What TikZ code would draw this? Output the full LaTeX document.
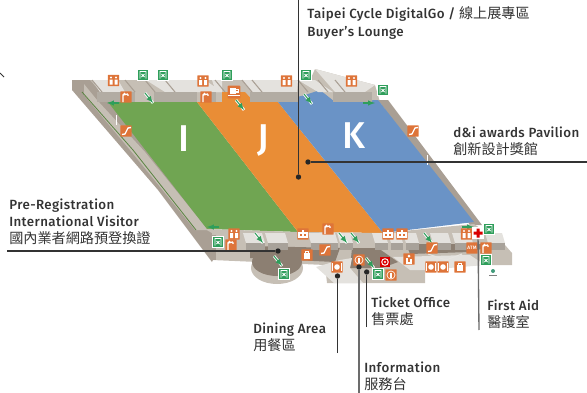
\documentclass[tikz,border=0pt]{standalone}
\usepackage{fontspec}
\setmainfont[LetterSpace=3]{Fira Sans Medium}
\newfontfamily\cjk[Scale=1.06]{Noto Sans CJK TC}
\definecolor{wallc}{HTML}{C6BFB5}
\definecolor{roofc}{HTML}{E4E2DE}
\definecolor{sidec}{HTML}{A99F94}
\definecolor{darkc}{HTML}{8C7F72}
\definecolor{greenc}{HTML}{70A552}
\definecolor{orangec}{HTML}{E98D36}
\definecolor{bluec}{HTML}{6A93C6}
\definecolor{iconc}{HTML}{DE7439}
\definecolor{exitc}{HTML}{2F9E5B}
\definecolor{textc}{HTML}{333333}
\tikzset{
    lbl/.style={anchor=west, align=left, inner sep=0pt, text=textc, font=\fontsize{10}{12.8}\selectfont},
    bigl/.style={text=white, font=\fontsize{28}{28}\selectfont, inner sep=0pt},
    orgbox/.style={fill=iconc, minimum size=8.6pt, inner sep=0pt, rounded corners=0.5pt},
    extbox/.style={fill=exitc, draw=white, line width=1pt, minimum size=8pt, inner sep=0pt},
    lead/.style={line width=0.8pt, textc},
    leadg/.style={line width=1pt, gray!85!black},
    dot/.style={fill=black!85, circle, inner sep=0pt, minimum size=4pt},
    gline/.style={exitc, line width=0.8pt}
}
\begin{document}
\begin{tikzpicture}[x=0.75pt, y=-0.75pt]
    \useasboundingbox (0,0) rectangle (587,393);
    \draw[line width=0.7pt, textc] (0,73) -- (4,77);

    % back band and outer wall
    \fill[wallc] (72,80) -- (310,80) -- (315,69) -- (375,85) -- (380,102) -- (100,103) -- cycle;
    \fill[sidec] (72,80) -- (72,90) -- (158,190) -- (212,262) -- (222,240) -- (150,150) -- (90,80) -- cycle;
    \fill[wallc] (84,84) -- (97,100) -- (145,152) -- (208,230) -- (195,230) -- (130,150) -- (84,95) -- cycle;
    \draw[greenc!80!black, line width=0.6pt] (82,92) -- (133,150) -- (196,230);
    \fill[sidec] (378,100) -- (388,100) -- (482,225) -- (470,225) -- cycle;

    % halls
    \fill[greenc] (108,102) -- (197,102) -- (298,232) -- (207,229) -- cycle;
    \fill[orangec] (197,102) -- (278,102) -- (383,233) -- (298,232) -- cycle;
    \fill[orangec] (222,92) -- (245,92) -- (255,103) -- (222,103) -- cycle;
    \fill[bluec] (278,102) -- (305,95) -- (320,90) -- (335,102) -- (378,100) -- (474,222) -- (383,233) -- cycle;
    \draw[white, line width=0.5pt] (427,155) -- (427,165);
    \draw[white, line width=0.5pt] (116,115) -- (116,125);

    % roofs of the back band
    \foreach \a/\b/\c/\d in {92/118/125/100,146/205/222/165,212/222/222/216,242/298/297/252,298/315/333/318}{
        \fill[roofc] (\a,80) -- (\b,80) -- (\c,92) -- (\d,92) -- cycle;
    }
    \fill[roofc] (315,69) -- (375,85) -- (365,92) -- (335,92) -- cycle;
    \foreach \a/\b in {97/135,154/197,203/216,250/298,333/372}{
        \fill[wallc!90!black] (\a,92) rectangle (\b,102);
    }
    \foreach \a in {92,125,145,165,215,242,252,298,318,335}{
        \draw[sidec, line width=0.8pt] (\a,80) -- +(10,12);
    }

    % front block
    \fill[wallc] (212,233) -- (205,229) -- (298,232) -- (383,233) -- (474,224) -- (505,245) -- (512,253) -- (512,265) -- (470,265) -- (425,270) -- (425,283) -- (327,283) -- (325,265) -- (212,260) -- cycle;
    \fill[sidec] (212,235) -- (216,235) -- (216,260) -- (212,260) -- cycle;
    \fill[darkc] (250,246) -- (340,248) -- (335,262) -- (250,258) -- cycle;
    \fill[wallc] (277,268) ellipse [x radius=26, y radius=16];
    \fill[darkc] (277,262) ellipse [x radius=25, y radius=14];
    \fill[darkc] (352,248) -- (378,248) -- (398,262) -- (382,268) -- (350,268) -- cycle;
    \fill[darkc] (406,244) -- (500,244) -- (470,252) -- (410,254) -- cycle;
    \fill[roofc] (340,260) -- (352,258) -- (350,268) -- (363,283) -- (334,283) -- (316,267) -- cycle;
    \fill[roofc] (393,257) -- (470,255) -- (485,265) -- (425,270) -- (410,270) -- cycle;
    \foreach \a/\b in {243/262,265/285,308/322,321/335,337/350,372/385,388/400,403/416,430/448,452/470,485/502}{
        \fill[roofc] (\a,233) -- (\b,233) -- (\b+3,243) -- (\a+3,243) -- cycle;
        \fill[wallc!85!black] (\a+3,243) rectangle (\b+3,250);
    }
    \draw[wallc!40!white, line width=0.8pt] (428,254) -- (446,260) -- (462,254);

    % green ramps
    \foreach \x/\y in {149/98,240/105,308/99,259/238,278/261,343/238,355/238,370/263,428/238}{
        \draw[gline, white, line width=2pt] (\x-4,\y-5) -- (\x+4,\y+5);
        \draw[gline, -latex] (\x-4,\y-5) -- (\x+4,\y+5);
    }
    \foreach \x/\y in {113/103,213/227}{
        \draw[gline, -latex] (\x+6,\y) -- (\x-6,\y);
    }
    \foreach \x/\y in {369/103,468/227}{
        \draw[gline, -latex] (\x-6,\y) -- (\x+6,\y);
    }

    % wc
    \foreach \x/\y [count=\i] in {113.5/80.5,203/81,286.5/81,351.5/81,234/234,466.5/234}{
        \node[orgbox] (wc\i) at (\x,\y) {};
        \fill[white] (\x-4,\y-1) rectangle (\x-1,\y+4) (\x+1,\y-1) rectangle (\x+4,\y+4);
        \fill[white] (\x-2.5,\y-3) circle[radius=1.1] (\x+2.5,\y-3) circle[radius=1.1];
    }
    % water
    \foreach \x/\y [count=\i] in {126/97,206/97,231/245,328/229,486/248}{
        \node[orgbox] (wtr\i) at (\x,\y) {};
        \draw[white, line width=1pt] (\x-3,\y+5) -- (\x-3,\y-2) -- (\x+2,\y-3) (\x-3,\y-2) -- (\x-1,\y-4);
        \fill[white] (\x+2,\y-2) circle[radius=1];
    }
    % escalators
    \foreach \x/\y [count=\i] in {126/131,413/131,325/250,432/248}{
        \node[orgbox] (esc\i) at (\x,\y) {};
        \draw[white, line width=1pt] (\x-4,\y+3.5) -- (\x-1,\y+3) -- (\x+2,\y-3) -- (\x+5,\y-3.5);
    }
    % coffee
    \node[orgbox, minimum size=9.5pt] (cafe) at (234,92) {};
    \fill[white] (229.5,88) rectangle (236,93.5);
    \draw[white, line width=0.8pt] (236,89.5) -- (238.5,89.5) -- (238.5,92) -- (236,92);
    \draw[white, line width=0.8pt] (228,95.5) -- (240,95.5);
    % lockers
    \foreach \x/\y [count=\i] in {303/234,388/234,402/234}{
        \node[orgbox] (lkr\i) at (\x,\y) {};
        \draw[white, line width=0.8pt] (\x-4,\y-1) rectangle (\x+4,\y+3) (\x,\y-4) -- (\x,\y+3);
    }
    % luggage
    \foreach \x/\y [count=\i] in {307/255,460/267}{
        \node[orgbox] (lug\i) at (\x,\y) {};
        \fill[white] (\x-3.5,\y-2) rectangle (\x+3,\y+4);
        \draw[white, line width=0.7pt] (\x-2,\y-2) -- (\x-2,\y-4) -- (\x+1,\y-4) -- (\x+1,\y-2);
    }
    % dining
    \foreach \x/\y [count=\i] in {337/267,431/267,443/267}{
        \node[orgbox] (din\i) at (\x,\y) {};
        \fill[white] (\x,\y) circle[radius=2.8];
        \draw[white, line width=0.7pt] (\x-4.2,\y-4) -- (\x-4.2,\y+4) (\x+4.2,\y-4) -- (\x+4.2,\y+4);
    }
    % information
    \foreach \x/\y [count=\i] in {359/260,391/275}{
        \node[orgbox] (inf\i) at (\x,\y) {};
        \draw[white, line width=0.5pt] (\x,\y) circle[radius=4];
        \draw[white, line width=0.9pt] (\x,\y-2.5) -- (\x,\y+2.5);
    }
    % others
    \node[orgbox, text=white, font=\fontsize{3.6}{4}\selectfont] (atm) at (472,248) {ATM};
    \node[orgbox] (nurs) at (409,259) {};
    \fill[white] (409,256) circle[radius=1.5];
    \draw[white, line width=1.2pt] (407,258) -- (407,263) -- (412,263) (411,259) -- (411,262);
    \node[fill=red!85!black, minimum size=8.2pt, inner sep=0pt] (tick) at (385,262) {};
    \draw[white, line width=0.7pt] (385,262) circle[radius=3.3];
    \fill[white] (385,262) circle[radius=1.2];
    \node[fill=white, minimum size=9pt, inner sep=0pt] (aid) at (478,233) {};
    \fill[red!85!black] (473.5,231.5) rectangle (482.5,234.5) (476.5,228.5) rectangle (479.5,237.5);
    \fill[exitc!70!bluec] (493,271) circle[radius=2];
    \fill[gray] (489,274.5) rectangle (497,275.5);

    % exits
    \foreach \x/\y [count=\i] in {143/75,163/75,227/75,306/75,383/90,218/242,284/274,489/229,486/260,378/274}{
        \node[extbox] (ext\i) at (\x,\y) {};
        \draw[white, line width=0.6pt] (\x-3,\y+3.5) -- (\x-3,\y-3.5) -- (\x+3,\y-3.5) -- (\x+3,\y+3.5) (\x-1.5,\y-1) -- (\x+1.5,\y+2) (\x+1.5,\y-1) -- (\x-1.5,\y+2);
    }

    % hall letters
    \node[bigl] (hallI) at (183.5,139) {I};
    \node[bigl] (hallJ) at (263,140) {J};
    \node[bigl] (hallK) at (354,136) {K};

    % leaders
    \coordinate (topend) at (298.5,0);
    \coordinate (awdend) at (587,162);
    \coordinate (regend) at (7,251);
    \coordinate (dinend) at (337.5,353);
    \coordinate (tckend) at (366.7,327);
    \coordinate (infend) at (359,393);
    \coordinate (aidend) at (479,330);
    \node[dot] (topdot) at (298.5,177) {};
    \node[dot] (awddot) at (308,162) {};
    \node[dot] (regdot) at (278,251) {};
    \node[dot] (dindot) at (337.5,276) {};
    \node[dot] (tckdot) at (366.7,272) {};
    \node[dot] (infdot) at (359,267) {};
    \draw[lead] (topend) -- (topdot);
    \draw[lead] (awdend) -- (awddot);
    \draw[lead] (regend) -- (regdot);
    \draw[lead] (dinend) -- (dindot);
    \draw[lead] (tckend) -- (tckdot);
    \draw[leadg] (infend) -- (infdot);
    \draw[leadg] (aidend) -- (aid);

    % labels
    \node[lbl] (lounge) at (307,23) {Taipei Cycle DigitalGo / {\cjk 線上展專區}\\Buyer's Lounge};
    \node[lbl] (awards) at (453,141) {d\&i awards Pavilion\\{\cjk 創新設計獎館}};
    \node[lbl] (prereg) at (9,222) {Pre-Registration\\International Visitor\\{\cjk 國內業者網路預登換證}};
    \node[lbl] (dining) at (253,337) {Dining Area\\{\cjk 用餐區}};
    \node[lbl] (ticket) at (371,311) {Ticket Office\\{\cjk 售票處}};
    \node[lbl] (firstaid) at (487,314) {First Aid\\{\cjk 醫護室}};
    \node[lbl] (info) at (364,376) {Information\\{\cjk 服務台}};
\end{tikzpicture}
\end{document}
